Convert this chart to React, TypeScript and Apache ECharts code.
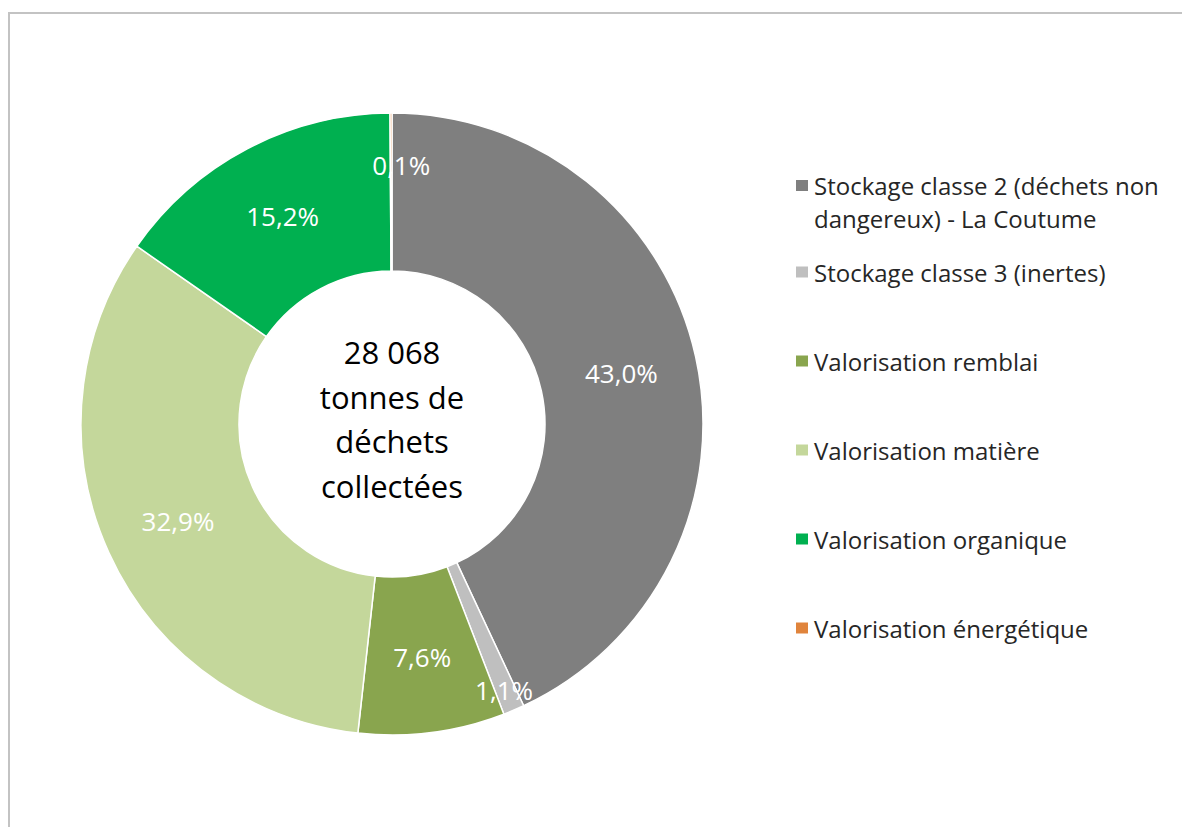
import React, { useEffect, useRef } from "react";
import * as echarts from "echarts";

const categories = [
  "Stockage classe 2 (déchets non dangereux) - La Coutume",
  "Stockage classe 3 (inertes)",
  "Valorisation remblai",
  "Valorisation matière",
  "Valorisation organique",
  "Valorisation énergétique",
];
const shares = [43.0, 1.1, 7.6, 32.9, 15.2, 0.1];
const colors = ["#7f7f7f", "#bfbfbf", "#89a54e", "#c4d79b", "#00b050", "#e0843c"];
const centerLines = ["28 068", "tonnes de", "déchets", "collectées"];

const FONT = "Open Sans";

const fmt = (v: number) => `${v.toFixed(1).replace(".", ",")}%`;

export default function App() {
  const ref = useRef<HTMLDivElement>(null);
  useEffect(() => {
    if (!ref.current) return;
    const chart = echarts.init(ref.current, undefined, { renderer: "svg" });
    // small slices: labels nudged outward, as in the reference
    const nudge: Record<number, number[]> = {
      1: [20, 50],
      5: [10, -24],
    };
    const data = categories.map((name, i) => ({
      name,
      value: shares[i],
      itemStyle: { color: colors[i] },
    }));
    chart.setOption({
      animation: false,
      backgroundColor: "#ffffff",
      graphic: [
        {
          type: "rect",
          shape: { x: 9, y: 13, width: 1300, height: 1000 },
          style: { fill: "none", stroke: "#c3c3c3", lineWidth: 2 },
          silent: true,
        },
        {
          type: "text",
          x: 392,
          y: 419,
          style: {
            text: centerLines.join("\n"),
            font: `31px "${FONT}"`,
            lineHeight: 44.5,
            fill: "#000000",
            align: "center",
            verticalAlign: "middle",
          },
          z: 10,
        },
      ],
      legend: [
        {
          orient: "vertical",
          left: 789,
          top: 131,
          itemWidth: 14,
          itemHeight: 13,
          icon: "rect",
          data: [categories[0]],
          formatter: () => "\nStockage classe 2 (déchets non\ndangereux) - La Coutume",
          textStyle: {
            fontFamily: FONT,
            fontSize: 24,
            lineHeight: 33,
            color: "#262626",
          },
        },
        {
          orient: "vertical",
          left: 789,
          top: 252,
          itemWidth: 14,
          itemHeight: 13,
          itemGap: 59,
          icon: "rect",
          data: categories.slice(1),
          textStyle: {
            fontFamily: FONT,
            fontSize: 24,
            lineHeight: 30,
            color: "#262626",
          },
        },
      ],
      series: [
        {
          type: "pie",
          center: [392, 424],
          radius: [153, 311],
          startAngle: 90,
          clockwise: true,
          avoidLabelOverlap: false,
          itemStyle: {
            borderColor: "#ffffff",
            borderWidth: 1.5,
          },
          label: {
            show: true,
            position: "inside",
            color: "#ffffff",
            fontFamily: FONT,
            fontSize: 26,
            formatter: (p: any) => fmt(Number(p.value)),
          },
          labelLayout: (p: any) => {
            const n = nudge[p.dataIndex];
            return n ? { dx: n[0], dy: n[1], hideOverlap: false } : { hideOverlap: false };
          },
          labelLine: { show: false },
          emphasis: { disabled: true },
          data,
        },
      ],
    });
    return () => chart.dispose();
  }, []);
  return (
    <div
      ref={ref}
      style={{ position: "fixed", left: 0, top: 0, width: 1182, height: 827 }}
    />
  );
}
